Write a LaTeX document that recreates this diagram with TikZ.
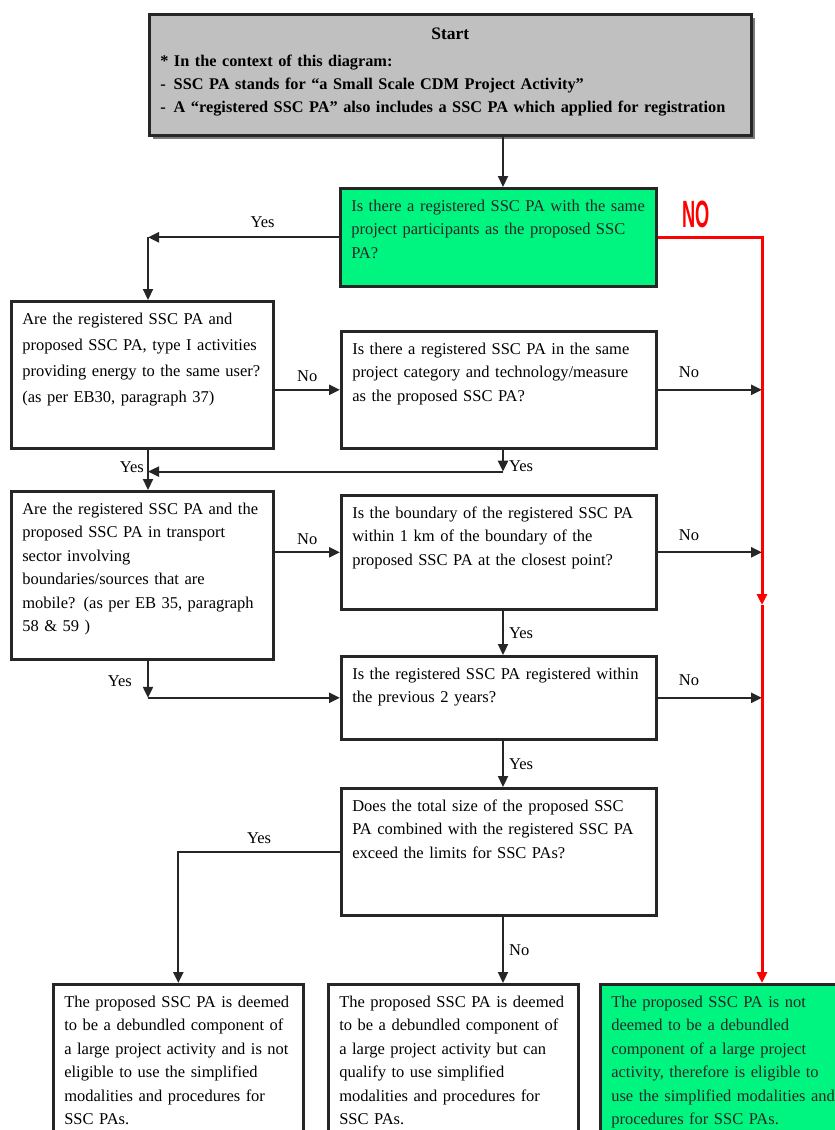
\documentclass[tikz,border=0pt]{standalone}
\usepackage{fontspec}
\setmainfont{Liberation Serif}
\newfontfamily\nofont{Liberation Sans}
\usepackage{graphicx}
\usepackage{tikz}
\usetikzlibrary{positioning,arrows.meta,shadows}
\definecolor{startgray}{RGB}{192,192,192}
\definecolor{brightgreen}{RGB}{0,245,128}

\begin{document}
\begin{tikzpicture}[
  x=1pt, y=-1pt,
  font=\fontsize{16.5}{23.5}\selectfont,
  box/.style={rectangle, draw=black!85, line width=2.6pt, fill=white, anchor=north west,
              align=left, inner sep=11pt, text height=12pt},
  okbox/.style={box, fill=brightgreen, text=black!85},
  arr/.style={-{Triangle[length=11pt,width=10pt]}, line width=2.2pt, black!85},
  noarr/.style={arr, red, line width=3pt},
  lbl/.style={inner sep=3pt, text=black}
]
  \path[fill=white] (0,0) rectangle (835,1130);
  \useasboundingbox (0,0) rectangle (835,1130);

  \node[box, fill=startgray, text width=580pt, inner ysep=13pt, text depth=83pt,
        drop shadow={shadow xshift=4pt, shadow yshift=-4pt, fill=black!65, opacity=.8}]
    (start) at (148,13) {\bfseries\fontsize{16.3}{23}\selectfont
    \makebox[\linewidth]{\fontsize{17.5}{20}\selectfont Start}\\[4pt]
    * In the context of this diagram:\\
    -\hspace{8pt}SSC PA stands for ``a Small Scale CDM Project Activity''\\
    -\hspace{8pt}A ``registered SSC PA'' also includes a SSC PA which applied for registration};
  \node[okbox, text width=294pt, text depth=64pt] (Q) at (339,187)
    {Is there a registered SSC PA with the same\\project participants as the proposed SSC\\PA?};
  \node[box, text width=240pt, text depth=113pt, font=\fontsize{16.5}{26}\selectfont] (A) at (10,300)
    {Are the registered SSC PA and\\proposed SSC PA, type I activities\\providing energy to the same user?\\(as per EB30, paragraph 37)};
  \node[box, text width=293pt, text depth=83pt] (B) at (340,330)
    {Is there a registered SSC PA in the same\\project category and technology/measure\\as the proposed SSC PA?};
  \node[box, text width=240pt, text depth=134pt] (C) at (10,490)
    {Are the registered SSC PA and the\\proposed SSC PA in transport\\sector involving\\boundaries/sources that are\\mobile? (as per EB 35, paragraph\\58 \& 59 )};
  \node[box, text width=293pt, text depth=80pt] (D) at (340,494)
    {Is the boundary of the registered SSC PA\\within 1 km of the boundary of the\\proposed SSC PA at the closest point?};
  \node[box, text width=293pt, text depth=49pt] (E) at (340,655)
    {Is the registered SSC PA registered within\\the previous 2 years?};
  \node[box, text width=293pt, text depth=93pt] (F) at (340,787)
    {Does the total size of the proposed SSC\\PA combined with the registered SSC PA\\exceed the limits for SSC PAs?};
  \node[box, text width=228pt, text depth=126pt] (G) at (52,983)
    {The proposed SSC PA is deemed\\to be a debundled component of\\a large project activity and is not\\eligible to use the simplified\\modalities and procedures for\\SSC PAs.};
  \node[box, text width=228pt, text depth=126pt] (H) at (327,983)
    {The proposed SSC PA is deemed\\to be a debundled component of\\a large project activity but can\\qualify to use simplified\\modalities and procedures for\\SSC PAs.};
  \node[okbox, text width=228pt, text depth=126pt] (I) at (599,983)
    {The proposed SSC PA is not\\deemed to be a debundled\\component of a large project\\activity, therefore is eligible to\\use the simplified modalities and\\procedures for SSC PAs.};

  % columns of the vertical connectors
  \coordinate (lcol) at (148,0);
  \coordinate (col) at (503,0);
  \coordinate (redx) at (762,0);
  \coordinate (redmid) at (762,605);

  \draw[arr] (start.south -| col) -- (Q.north -| col);
  \draw[arr] (Q.west) -- node[lbl, above=6pt, pos=0.4]{Yes} (Q.west -| lcol);
  \draw[arr] (Q.west -| lcol) -- (A.north -| lcol);
  \draw[noarr] (Q.east) -- node[lbl, text=red, above=5pt, pos=0.37]{\nofont\bfseries\fontsize{38}{38}\selectfont\scalebox{0.48}[1]{NO}} (Q.east -| redx) -- (redmid);
  \draw[noarr] (redmid) -- (I.north -| redx);

  \draw[arr] (A.east |- B.west) -- node[lbl, above=4pt]{No} (B.west);
  \draw[arr] (B.east) -- node[lbl, above=8pt, pos=0.3]{No} (B.east -| redx);
  \draw[arr] (B.south -| col) -- node[lbl, right=2pt, pos=0.75]{Yes} ++(0,22) coordinate (byes);
  \draw[arr] (byes) -- (byes -| lcol);
  \draw[arr] (A.south -| lcol) -- node[lbl, left=0pt, pos=0.44]{Yes} (C.north -| lcol);

  \draw[arr] (C.east |- D.west) -- node[lbl, above=4pt]{No} (D.west);
  \draw[arr] (D.east) -- node[lbl, above=8pt, pos=0.3]{No} (D.east -| redx);
  \draw[arr] (D.south -| col) -- node[lbl, right=2pt]{Yes} (E.north -| col);
  \draw[arr] (C.south -| lcol) -- node[lbl, left=12pt, pos=0.55]{Yes} (E.west -| lcol);
  \draw[arr] (E.west -| lcol) -- (E.west);

  \draw[arr] (E.east) -- node[lbl, above=8pt, pos=0.3]{No} (E.east -| redx);
  \draw[arr] (E.south -| col) -- node[lbl, right=2pt]{Yes} (F.north -| col);
  \draw[arr] (F.west) -- node[lbl, above=4pt]{Yes} (F.west -| G.north) -- (G.north);
  \draw[arr] (F.south -| col) -- node[lbl, right=2pt]{No} (H.north -| col);
\end{tikzpicture}
\end{document}
